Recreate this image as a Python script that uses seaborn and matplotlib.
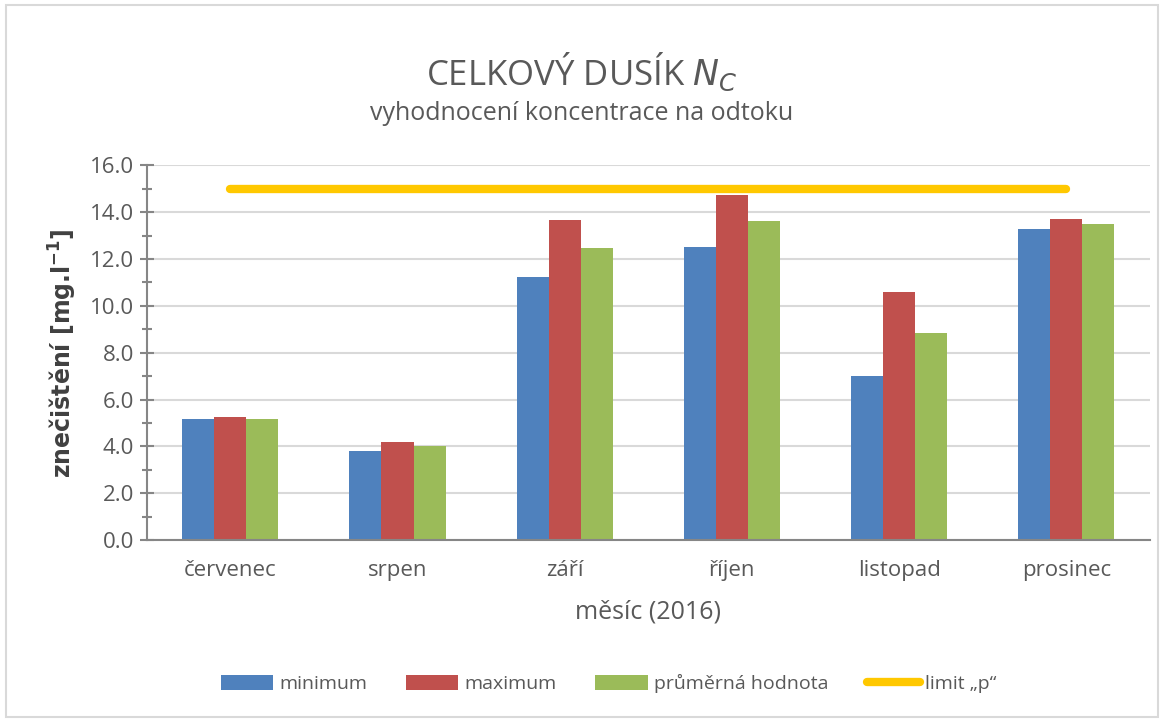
import pandas as pd
import matplotlib.pyplot as plt
import matplotlib.patches as mpatches
from matplotlib.lines import Line2D
from matplotlib.ticker import MultipleLocator
import seaborn as sns

# Data
mesice = ['červenec', 'srpen', 'září', 'říjen', 'listopad', 'prosinec']
minimum = [5.17, 3.81, 11.22, 12.52, 7.01, 13.28]
maximum = [5.24, 4.20, 13.68, 14.72, 10.61, 13.69]
prumer = [5.17, 4.00, 12.45, 13.62, 8.82, 13.48]
limit_p = [15.0, 15.0, 15.0, 15.0, 15.0, 15.0]

serie = ['minimum', 'maximum', 'průměrná hodnota']
barvy = ['#4F81BD', '#C0504D', '#9BBB59']
barva_limit = '#FFC800'

df = pd.DataFrame({
    'měsíc': mesice * 3,
    'hodnota': minimum + maximum + prumer,
    'řada': [serie[0]] * 6 + [serie[1]] * 6 + [serie[2]] * 6,
})

sns.set_theme(style="white")
plt.rcParams['font.family'] = ['Open Sans', 'DejaVu Sans']
sedy = '#595959'

fig = plt.figure(figsize=(11.64, 7.22), dpi=100)
ax = fig.add_axes([0.126, 0.252, 0.862, 0.519])

sns.barplot(data=df, x='měsíc', y='hodnota', hue='řada', palette=barvy,
            width=0.575, gap=0, saturation=1, linewidth=0, ax=ax, legend=False)
sns.lineplot(x=mesice, y=limit_p, color=barva_limit, linewidth=6,
             solid_capstyle='round', ax=ax, zorder=5)

ax.set_ylim(0, 16)
ax.set_xlim(-0.5, 5.5)
ax.yaxis.set_major_locator(MultipleLocator(2))
ax.yaxis.set_minor_locator(MultipleLocator(1))
ax.set_yticklabels([f'{v:.1f}' for v in ax.get_yticks()])
ax.grid(axis='y', color='#D9D9D9', linewidth=1.5)
ax.set_axisbelow(True)
for s in ['top', 'right']:
    ax.spines[s].set_visible(False)
ax.spines['left'].set_color('#868686')
ax.spines['bottom'].set_color('#868686')
ax.spines['left'].set_linewidth(1.5)
ax.spines['bottom'].set_linewidth(1.5)
ax.tick_params(axis='y', which='major', direction='inout', length=10, width=1.5,
               color='#868686', left=True, labelsize=16, labelcolor=sedy, pad=4)
ax.tick_params(axis='y', which='minor', direction='inout', length=7, width=1.5,
               color='#868686', left=True)
ax.tick_params(axis='x', length=0, labelsize=16, labelcolor=sedy, pad=14)

ax.set_xlabel('měsíc (2016)', fontsize=18, color=sedy, labelpad=14)
ax.set_ylabel(r'znečištění [mg.l$^{\mathregular{-1}}$]', fontsize=17, color='#404040',
              fontweight='bold', labelpad=8, family=['DejaVu Sans'])

# nadpis
fig.text(0.5, 0.9, r'CELKOVÝ DUSÍK $\mathit{N}_{\mathit{C}}$', ha='center', va='center',
         fontsize=25, color=sedy)
fig.text(0.5, 0.843, 'vyhodnocení koncentrace na odtoku', ha='center', va='center',
         fontsize=18, color=sedy)

# legenda
handles = [mpatches.Patch(color=c, label=l, linewidth=0) for c, l in zip(barvy, serie)]
handles.append(Line2D([0], [0], color=barva_limit, linewidth=6, solid_capstyle='round',
                      label='limit „p“'))
leg = fig.legend(handles=handles, loc='center', bbox_to_anchor=(0.523, 0.053), ncol=4,
                 frameon=False, fontsize=14, handlelength=2.7, handleheight=0.75,
                 columnspacing=2.0, handletextpad=0.3)
for t in leg.get_texts():
    t.set_color(sedy)

# rámeček grafu
fig.patches.append(mpatches.Rectangle((0.005, 0.007), 0.99, 0.986, transform=fig.transFigure,
                                      fill=False, edgecolor='#D9D9D9', linewidth=1.5))

plt.savefig('out.png', dpi=100)
